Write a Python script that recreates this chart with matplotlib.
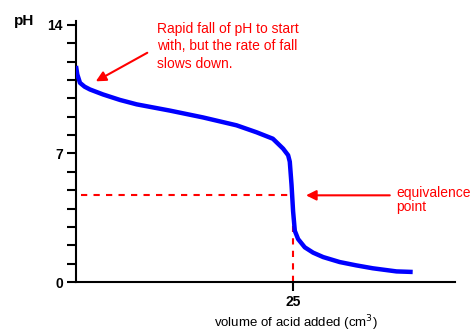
import matplotlib
matplotlib.use("Agg")
import matplotlib.pyplot as plt
import numpy as np

# titration curve
volume = [0.0, 0.15, 0.46, 1.0, 1.61, 3.11, 5.07, 7.0, 10.83, 14.63, 18.51,
          20.82, 22.70, 23.88, 24.46, 24.65, 24.85, 25.03, 25.23, 25.61,
          26.38, 27.34, 28.5, 30.4, 32.3, 34.22, 36.95, 38.82]
ph = [11.76, 11.3, 10.84, 10.63, 10.48, 10.21, 9.91, 9.67, 9.33, 8.96, 8.53,
      8.15, 7.80, 7.26, 6.90, 6.55, 5.30, 3.86, 2.79, 2.34, 1.89, 1.60, 1.36,
      1.09, 0.91, 0.75, 0.58, 0.55]

equiv_volume = 25
equiv_ph = 4.72
y_labelled = [0, 7, 14]

plt.rcParams["font.family"] = ["Liberation Sans", "DejaVu Sans"]

fig = plt.figure(figsize=(4.72, 3.35), dpi=100)
ax = fig.add_axes([0.161, 0.158, 0.803, 0.779])

ax.plot(volume, ph, color="#0000ff", lw=3.2, solid_capstyle="butt",
        solid_joinstyle="round", zorder=3)

# equivalence point guides
ax.plot([0.6, equiv_volume], [equiv_ph, equiv_ph], color="#ff0000",
        lw=1.5, ls=(0, (3, 3)), zorder=2)
ax.plot([equiv_volume, equiv_volume], [0, equiv_ph], color="#ff0000",
        lw=1.5, ls=(0, (3, 3)), zorder=2)

ax.set_xlim(0, 43.7)
ax.set_ylim(0, 14.2)

for side in ["top", "right"]:
    ax.spines[side].set_visible(False)
ax.spines["left"].set_linewidth(1.5)
ax.spines["bottom"].set_linewidth(1.5)

ax.set_yticks(np.arange(0, 15))
ax.set_yticklabels([str(v) if v in y_labelled else "" for v in range(15)],
                   fontsize=10, fontweight="bold")
ax.set_xticks([equiv_volume])
ax.set_xticklabels(["25"], fontsize=10, fontweight="bold")
ax.tick_params(direction="out", length=6.5, width=1.5, pad=3)

fig.text(14 / 472, 1 - 21 / 335, "pH", ha="left", va="center",
         fontsize=11, fontweight="bold")
ax.set_xlabel("volume of acid added (cm$^3$)", fontsize=9.5, labelpad=3,
              x=0.58)

red = "#ff0000"
ax.annotate("", xy=(2.0, 10.85), xytext=(8.5, 12.55),
            arrowprops=dict(arrowstyle="-|>", color=red, lw=1.5,
                            mutation_scale=15))
ax.text(9.3, 14.15, "Rapid fall of pH to start\nwith, but the rate of fall\nslows down.",
        color=red, fontsize=10, va="top", ha="left", linespacing=1.3)

ax.annotate("", xy=(26.2, equiv_ph), xytext=(36.5, equiv_ph),
            arrowprops=dict(arrowstyle="-|>", color=red, lw=1.5,
                            mutation_scale=15))
ax.text(36.9, equiv_ph + 0.5, "equivalence\npoint", color=red, fontsize=10,
        va="top", ha="left", linespacing=1.0)

fig.savefig("out.png", dpi=100)
